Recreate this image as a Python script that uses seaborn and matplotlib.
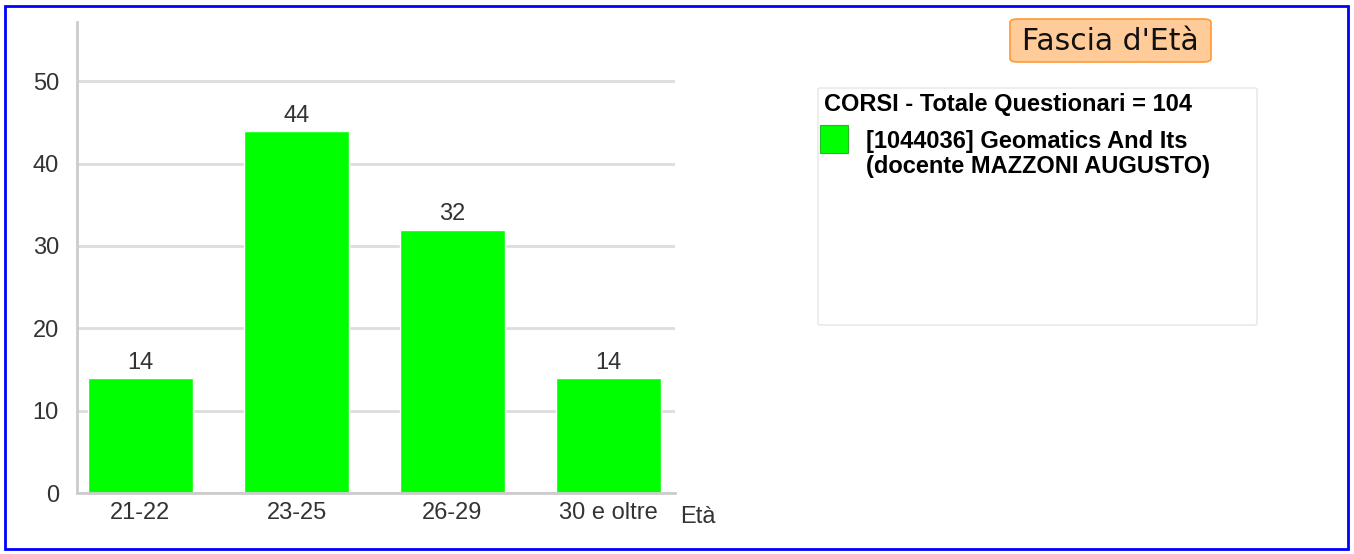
import numpy as np
import pandas as pd
import matplotlib
matplotlib.use("Agg")
import matplotlib.pyplot as plt
import matplotlib.patches as patches
import seaborn as sns

# dati
categorie = ['21-22', '23-25', '26-29', '30 e oltre']
valori = [14, 44, 32, 14]
titolo = "Fascia d'Età"
legenda_titolo = "CORSI - Totale Questionari = 104"
legenda_voce = "[1044036] Geomatics And Its\n(docente MAZZONI AUGUSTO)"

sns.set_style("white")
plt.rcParams['font.family'] = ['Liberation Sans', 'DejaVu Sans']

W, H = 1354, 554
fig = plt.figure(figsize=(W / 100, H / 100), dpi=100)

# cornice blu
fig.patches.append(patches.Rectangle((5 / W, 5 / H), (W - 11) / W, (H - 11) / H,
                                     transform=fig.transFigure, fill=False,
                                     edgecolor='#0000FF', linewidth=2))

ax = fig.add_axes([77 / W, 1 - 493 / H, (675 - 77) / W, (493 - 22) / H])
df = pd.DataFrame({'eta': categorie, 'n': valori})
sns.barplot(data=df, x='eta', y='n', color='#00FF00', saturation=1, width=0.673, ax=ax)

ax.set_ylim(0, 57.2)
ax.set_xlim(-0.407, 3.426)
ax.set_yticks([0, 10, 20, 30, 40, 50])
ax.yaxis.grid(True, color='#dddddd', linewidth=2)
ax.set_axisbelow(True)

for s in ['top', 'right']:
    ax.spines[s].set_visible(False)
ax.spines['left'].set_color('#cccccc')
ax.spines['left'].set_linewidth(2)
ax.spines['bottom'].set_color('#cccccc')
ax.spines['bottom'].set_linewidth(2)

ax.tick_params(axis='y', length=4, width=2, color='#dddddd', pad=9,
               labelsize=17, labelcolor='#333333')
ax.tick_params(axis='x', length=0, pad=6.5, labelsize=17, labelcolor='#333333')
ax.set_xlabel('')
ax.set_ylabel('')
ax.text(1.008, -0.05, 'Età', transform=ax.transAxes, fontsize=17, color='#333333',
        ha='left', va='center')

ax.bar_label(ax.containers[0], padding=3, fontsize=17, color='#333333')

# titolo
fig.patches.append(patches.FancyBboxPatch((1010 / W, 1 - 62 / H), 201 / W, 43 / H,
                                          boxstyle='round,pad=0,rounding_size=0.006',
                                          transform=fig.transFigure, facecolor='#FFCC99',
                                          edgecolor='#FF9933', linewidth=1.2))
fig.text(1110 / W, 1 - 41 / H, titolo, fontsize=21.5, color='#111111',
         family='DejaVu Sans', ha='center', va='center')

# legenda
fig.patches.append(patches.FancyBboxPatch((818 / W, 1 - 325 / H), (1257 - 818) / W, (325 - 88) / H,
                                          boxstyle='round,pad=0,rounding_size=0.002',
                                          transform=fig.transFigure, fill=False,
                                          edgecolor='#e6e6e6', linewidth=1))
fig.text(824 / W, 1 - 105 / H, legenda_titolo, fontsize=17, fontweight='bold',
         ha='left', va='center', color='black')
fig.patches.append(patches.Rectangle((820 / W, 1 - 153 / H), 28 / W, 28 / H,
                                     transform=fig.transFigure, facecolor='#00FF00',
                                     edgecolor='#22bb22', linewidth=0.8))
fig.text(866 / W, 1 - 154 / H, legenda_voce, fontsize=17, fontweight='bold',
         ha='left', va='center', color='black', linespacing=1.12)

fig.savefig('out.png', dpi=100)
